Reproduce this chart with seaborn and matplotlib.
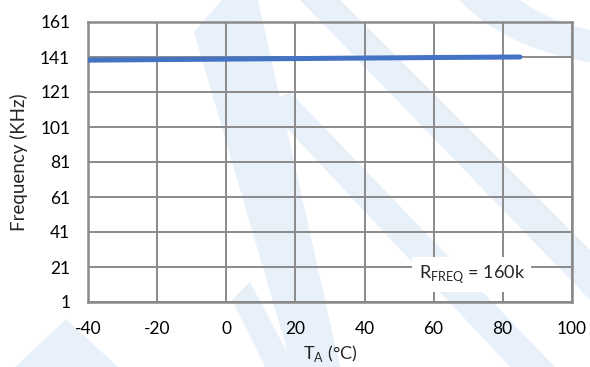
import matplotlib
matplotlib.use("Agg")
import matplotlib.pyplot as plt
from matplotlib.patches import Polygon, Wedge
import seaborn as sns
import pandas as pd

temps = [-40, -20, 0, 20, 40, 60, 85]
freq = [139.2, 139.5, 139.8, 140.1, 140.4, 140.7, 141.0]
x_ticks = [-40, -20, 0, 20, 40, 60, 80, 100]
y_ticks = [1, 21, 41, 61, 81, 101, 121, 141, 161]

sns.set_theme(style="white")
plt.rcParams['font.family'] = ['Lato', 'DejaVu Sans']
plt.rcParams['mathtext.fontset'] = 'custom'
plt.rcParams['mathtext.rm'] = 'Lato'
plt.rcParams['axes.unicode_minus'] = False

W, H = 590, 367
fig = plt.figure(figsize=(5.9, 3.67), dpi=100)

# faint background watermark (pixel coords, origin top-left)
wm = "#E8F1F9"
def px(pts):
    return [(x / W, 1 - y / H) for x, y in pts]
shapes = [
    [(194, 32), (222, 0), (258, 0), (340, 367), (292, 367)],
    [(300, 0), (340, 0), (590, 250), (590, 300)],
    [(265, 105), (290, 92), (555, 367), (510, 367)],
    [(15, 367), (66, 319), (118, 367)],
    [(232, 300), (250, 282), (295, 367), (265, 367)],
]
for s in shapes:
    fig.patches.append(Polygon(px(s), closed=True, facecolor=wm, edgecolor="none",
                               transform=fig.transFigure, zorder=-5))
fig.patches.append(Wedge((640 / W, 1 + 62 / H), 206 / W, 180, 270, width=50 / W,
                         facecolor=wm, edgecolor="none", transform=fig.transFigure, zorder=-5))

ax = fig.add_axes([88.3 / W, 65 / H, 483.4 / W, 280 / H])
ax.set_facecolor("none")
ax.set_zorder(1)

df = pd.DataFrame({"T": temps, "F": freq})
sns.lineplot(data=df, x="T", y="F", ax=ax, color="#4472C4", linewidth=3.6, zorder=3,
             solid_capstyle="round")

ax.set_xlim(-40, 100)
ax.set_ylim(1, 161)
ax.set_xticks(x_ticks)
ax.set_yticks(y_ticks)
ax.grid(True, color="#8a8a8a", linewidth=1.4)
for s in ax.spines.values():
    s.set_color("#8a8a8a")
    s.set_linewidth(1.8)
ax.tick_params(axis='x', labelsize=12.5, colors="black", length=0, pad=14)
ax.tick_params(axis='y', labelsize=12.5, colors="black", length=0, pad=13)
ax.set_xlabel(r"T$_\mathregular{A}$ (°C)", fontsize=13)
ax.set_ylabel("Frequency (KHz)", fontsize=13.5)
ax.xaxis.set_label_coords(0.5, (H - 354 - 65) / 280)
ax.xaxis.label.set_va("center")
ax.yaxis.set_label_coords((18.5 - 88.3) / 483.4, 0.5)
ax.yaxis.label.set_va("center")
ax.yaxis.label.set_ha("center")

ax.text(71.1, 14.5, r"R$_\mathregular{FREQ}$ = 160k", fontsize=13, ha="center", va="baseline",
        bbox=dict(facecolor="white", edgecolor="none", pad=4.5), zorder=4)

fig.savefig("out.png", dpi=100)
